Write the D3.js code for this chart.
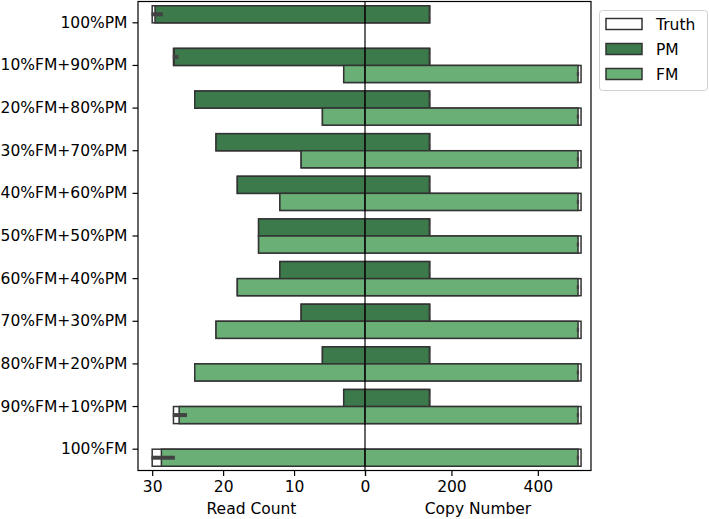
<!DOCTYPE html>
<html><head><meta charset="utf-8">
<script src="https://cdn.jsdelivr.net/npm/d3@7"></script>
<style>body{margin:0;background:#fff}svg{display:block;font-family:"DejaVu Sans",sans-serif}</style>
</head><body><svg id="c" width="709" height="519"></svg>
<script>
const categories = ["100%PM","10%FM+90%PM","20%FM+80%PM","30%FM+70%PM","40%FM+60%PM","50%FM+50%PM","60%FM+40%PM","70%FM+30%PM","80%FM+20%PM","90%FM+10%PM","100%FM"];
const truthPMRead = [30,27,24,21,18,15,12,9,6,3,0];
const truthFMRead = [0,3,6,9,12,15,18,21,24,27,30];
const pmRead   = [29.6,26.9,24,21,18,15,12,9,6,3,0];
const pmReadLo = [28.5,26.3,24,21,18,15,12,9,6,3,0];
const pmReadHi = [30.1,27.1,24,21,18,15,12,9,6,3,0];
const fmRead   = [0,3,6,9,12,15,18,21,24,26.2,28.7];
const fmReadLo = [0,3,6,9,12,15,18,21,24,25.1,26.8];
const fmReadHi = [0,3,6,9,12,15,18,21,24,27.1,30.1];
const truthPMCopy = [150,150,150,150,150,150,150,150,150,150,0];
const truthFMCopy = [0,500,500,500,500,500,500,500,500,500,500];
const pmCopy   = [149,149,149,149,149,149,149,149,149,149,0];
const pmCopyLo = [147.5,147.5,147.5,147.5,147.5,147.5,147.5,147.5,147.5,147.5,0];
const pmCopyHi = [150.5,150.5,150.5,150.5,150.5,150.5,150.5,150.5,150.5,150.5,0];
const fmCopy   = [0,493,493,493,493,493,493,493,493,493,493];
const fmCopyLo = [0,490,490,490,490,490,490,490,490,490,490];
const fmCopyHi = [0,495.5,495.5,495.5,495.5,495.5,495.5,495.5,495.5,495.5,495.5];
const readTicks = [0,10,20,30];
const copyTicks = [0,200,400];
const legendLabels = ["Truth","PM","FM"];
const colors = {Truth:"#ffffff", PM:"#3c7a4c", FM:"#6aaf76"};

const svg = d3.select("#c");
const L = 138, M = 365, R = 591, T = 1.5, B = 470.5;
const fs = "15.5px";
const y = d3.scaleBand().domain(categories).range([T, B]).padding(0);
const xL = d3.scaleLinear().domain([0, 32]).range([M, L]);
const xR = d3.scaleLinear().domain([0, 523]).range([M, R]);
const bw = y.bandwidth() * 0.4;
const slotY = (c, k) => y(c) + y.bandwidth()/2 + (k === 0 ? -bw : 0);

function bars(g, x, vals, fill, k) {
  g.selectAll(null).data(categories).join("rect")
    .filter((c,i) => vals[i] > 0)
    .attr("x", (c) => Math.min(x(0), x(vals[categories.indexOf(c)])))
    .attr("width", (c) => Math.abs(x(vals[categories.indexOf(c)]) - x(0)))
    .attr("y", c => slotY(c, k)).attr("height", bw)
    .attr("fill", fill).attr("stroke", "#333").attr("stroke-width", 1.5);
}
function errs(g, x, lo, hi, k) {
  g.selectAll(null).data(categories).join("line")
    .filter((c,i) => hi[i] - lo[i] > 0)
    .attr("x1", c => x(lo[categories.indexOf(c)])).attr("x2", c => x(hi[categories.indexOf(c)]))
    .attr("y1", c => slotY(c,k) + bw/2).attr("y2", c => slotY(c,k) + bw/2)
    .attr("stroke", "#424242").attr("stroke-width", 4);
}
const gL = svg.append("g"), gR = svg.append("g");
bars(gL, xL, truthPMRead, colors.Truth, 0); bars(gL, xL, truthFMRead, colors.Truth, 1);
bars(gL, xL, pmRead, colors.PM, 0); bars(gL, xL, fmRead, colors.FM, 1);
errs(gL, xL, pmReadLo, pmReadHi, 0); errs(gL, xL, fmReadLo, fmReadHi, 1);
bars(gR, xR, truthPMCopy, colors.Truth, 0); bars(gR, xR, truthFMCopy, colors.Truth, 1);
bars(gR, xR, pmCopy, colors.PM, 0); bars(gR, xR, fmCopy, colors.FM, 1);
errs(gR, xR, pmCopyLo, pmCopyHi, 0); errs(gR, xR, fmCopyLo, fmCopyHi, 1);

// frames
svg.append("rect").attr("x", L).attr("y", T).attr("width", R - L).attr("height", B - T)
  .attr("fill", "none").attr("stroke", "#000").attr("stroke-width", 1.2);
svg.append("line").attr("x1", M).attr("x2", M).attr("y1", T).attr("y2", B).attr("stroke", "#000").attr("stroke-width", 1.2);

function styleAxis(g) {
  g.select(".domain").remove();
  g.selectAll(".tick line").attr("stroke", "#000").attr("stroke-width", 1.2);
  g.selectAll(".tick text").attr("font-size", fs).attr("fill", "#000").attr("font-family", "DejaVu Sans");
}
svg.append("g").attr("transform", `translate(${L},0)`)
  .call(d3.axisLeft(y).tickSize(5.5).tickPadding(5)).call(styleAxis);
svg.append("g").attr("transform", `translate(0,${B})`)
  .call(d3.axisBottom(xL).tickValues(readTicks).tickSize(5.5).tickPadding(5)).call(styleAxis);
const axR = svg.append("g").attr("transform", `translate(0,${B})`)
  .call(d3.axisBottom(xR).tickValues(copyTicks).tickSize(5.5).tickPadding(5)).call(styleAxis);
// the right "0" sits exactly on the left "0"; hide the duplicate so it is not drawn twice
axR.selectAll(".tick text").filter(d => d === 0).attr("fill-opacity", 0);

svg.append("text").attr("x", (L + M)/2).attr("y", 514).attr("text-anchor", "middle").attr("font-size", fs).text("Read Count");
svg.append("text").attr("x", (M + R)/2).attr("y", 514).attr("text-anchor", "middle").attr("font-size", fs).text("Copy Number");

// legend
const lg = svg.append("g");
lg.append("rect").attr("x", 599.5).attr("y", 10.5).attr("width", 108).attr("height", 80).attr("rx", 3)
  .attr("fill", "#fff").attr("stroke", "#d0d0d0").attr("stroke-width", 1);
legendLabels.forEach((k, i) => {
  const cy = 24 + i * 25;
  lg.append("rect").attr("x", 606).attr("y", cy - 5.5).attr("width", 36).attr("height", 11)
    .attr("fill", colors[k]).attr("stroke", "#333").attr("stroke-width", 1.5);
  lg.append("text").attr("x", 656).attr("y", cy + 5.5).attr("font-size", fs).text(k);
});
</script></body></html>
